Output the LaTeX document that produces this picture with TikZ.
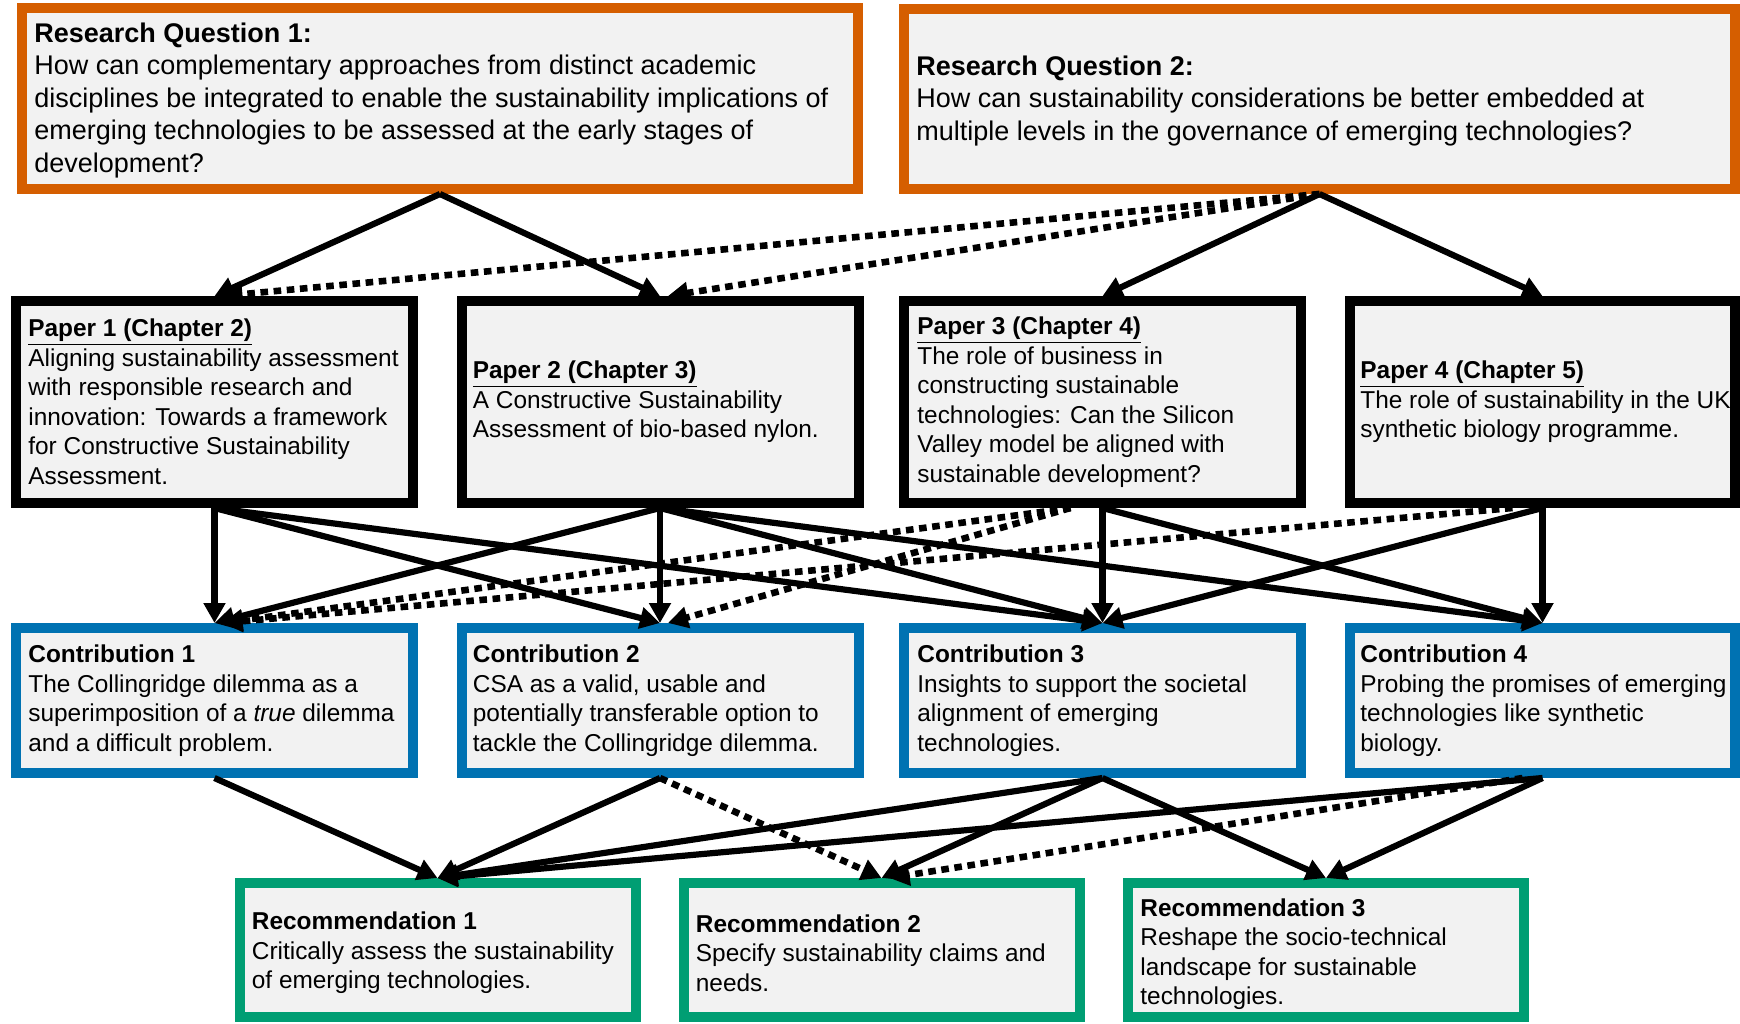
\documentclass[tikz,border=0pt]{standalone}
\usepackage{fontspec}
\setmainfont{Liberation Sans}
\usetikzlibrary{arrows.meta}

\definecolor{rqorange}{RGB}{213,94,0}
\definecolor{cblue}{RGB}{0,114,178}
\definecolor{rgreen}{RGB}{0,158,115}
\definecolor{boxfill}{RGB}{242,242,242}

\tikzset{
  frame/.style={draw, line width=5pt, fill=boxfill, inner sep=0pt},
  rqbox/.style={frame, draw=rqorange},
  paperbox/.style={frame, draw=black, minimum width=198.5pt, minimum height=101pt},
  contbox/.style={frame, draw=cblue, minimum width=198.5pt, minimum height=72.5pt},
  recbox/.style={frame, draw=rgreen, minimum width=198pt, minimum height=67pt},
  bigtxt/.style={anchor=west, align=left, inner sep=0pt, font=\fontsize{13.5}{16.25}\selectfont},
  txt/.style={anchor=west, align=left, inner sep=0pt, font=\fontsize{12.2}{14.75}\selectfont},
  link/.style={line width=3.1pt, -{Triangle[length=10pt,width=10.5pt]}},
  dotlink/.style={link, line width=3.3pt, dash pattern=on 3.8pt off 2.8pt},
}

\begin{document}
\begin{tikzpicture}[x=0.5pt, y=-0.5pt]
\useasboundingbox (0,0) rectangle (1740,1023);

% ---- research questions ----
\node[rqbox, minimum width=418pt, minimum height=90.5pt] (rq1) at (440,98.5) {};
\node[rqbox, minimum width=415.5pt, minimum height=90pt] (rq2) at (1319.5,99) {};
\node[bigtxt] (rq1t) at ([xshift=8.5pt,yshift=-1pt]rq1.west) {\textbf{Research Question 1:}\\
How can complementary approaches from distinct academic\\
disciplines be integrated to enable the sustainability implications of\\
emerging technologies to be assessed at the early stages of\\
development?};
\node[bigtxt] (rq2t) at ([xshift=8.5pt,yshift=-1pt]rq2.west) {\textbf{Research Question 2:}\\
How can sustainability considerations be better embedded at\\
multiple levels in the governance of emerging technologies?};

% ---- papers ----
\node[paperbox] (p1) at (214.5,402) {};
\node[paperbox] (p2) at (660,402) {};
\node[paperbox] (p3) at (1102.5,402) {};
\node[paperbox, minimum width=192.5pt] (p4) at (1542.5,402) {};
\node[txt] (p1t) at ([xshift=8.5pt]p1.west) {\textbf{\underline{Paper 1 (Chapter 2)}}\\
Aligning sustainability assessment\\
with responsible research and\\
innovation: Towards a framework\\
for Constructive Sustainability\\
Assessment.};
\node[txt] (p2t) at ([xshift=8pt]p2.west) {\textbf{\underline{Paper 2 (Chapter 3)}}\\
A Constructive Sustainability\\
Assessment of bio-based nylon.};
\node[txt] (p3t) at ([xshift=9pt]p3.west) {\textbf{\underline{Paper 3 (Chapter 4)}}\\
The role of business in\\
constructing sustainable\\
technologies: Can the Silicon\\
Valley model be aligned with\\
sustainable development?};
\node[txt] (p4t) at ([xshift=7.5pt]p4.west) {\textbf{\underline{Paper 4 (Chapter 5)}}\\
The role of sustainability in the UK\\
synthetic biology programme.};

% ---- contributions ----
\node[contbox] (c1) at (214.5,700.5) {};
\node[contbox] (c2) at (660,700.5) {};
\node[contbox] (c3) at (1102.5,700.5) {};
\node[contbox, minimum width=192.5pt] (c4) at (1542.5,700.5) {};
\node[txt] (c1t) at ([xshift=8.5pt]c1.west) {\textbf{Contribution 1}\\
The Collingridge dilemma as a\\
superimposition of a \textit{true} dilemma\\
and a difficult problem.};
\node[txt] (c2t) at ([xshift=8pt]c2.west) {\textbf{Contribution 2}\\
CSA as a valid, usable and\\
potentially transferable option to\\
tackle the Collingridge dilemma.};
\node[txt] (c3t) at ([xshift=9pt]c3.west) {\textbf{Contribution 3}\\
Insights to support the societal\\
alignment of emerging\\
technologies.};
\node[txt] (c4t) at ([xshift=7.5pt]c4.west) {\textbf{Contribution 4}\\
Probing the promises of emerging\\
technologies like synthetic\\
biology.};

% ---- recommendations ----
\node[recbox] (r1) at (437.5,950) {};
\node[recbox] (r2) at (881.5,950) {};
\node[recbox] (r3) at (1326,950) {};
\node[txt] (r1t) at ([xshift=8.5pt,yshift=-1.5pt]r1.west) {\textbf{Recommendation 1}\\
Critically assess the sustainability\\
of emerging technologies.};
\node[txt] (r2t) at ([xshift=8.5pt,yshift=-1.5pt]r2.west) {\textbf{Recommendation 2}\\
Specify sustainability claims and\\
needs.};
\node[txt] (r3t) at ([xshift=8.5pt,yshift=-2pt]r3.west) {\textbf{Recommendation 3}\\
Reshape the socio-technical\\
landscape for sustainable\\
technologies.};

% ---- questions to papers ----
\draw[link] (rq1.south) -- (p1.north);
\draw[link] (rq1.south) -- (p2.north);
\draw[dotlink] (rq2.south) -- ([xshift=4pt]p1.north);
\draw[dotlink] (rq2.south) -- ([xshift=4pt]p2.north);
\draw[link] (rq2.south) -- (p3.north);
\draw[link] (rq2.south) -- (p4.north);

% ---- papers to contributions ----
\draw[link] (p1.south) -- (c1.north);
\draw[link] (p1.south) -- (c2.north);
\draw[link] (p1.south) -- (c3.north);
\draw[link] (p2.south) -- (c1.north);
\draw[link] (p2.south) -- (c2.north);
\draw[link] (p2.south) -- (c3.north);
\draw[link] (p2.south) -- (c4.north);
\draw[link] (p3.south) -- (c3.north);
\draw[link] (p3.south) -- (c4.north);
\draw[dotlink] ([xshift=-16pt]p3.south) -- ([xshift=4pt]c1.north);
\draw[dotlink] ([xshift=-16pt]p3.south) -- ([xshift=4pt]c2.north);
\draw[link] (p4.south) -- (c4.north);
\draw[link] (p4.south) -- (c3.north);
\draw[dotlink] ([xshift=-15pt]p4.south) -- ([xshift=4pt]c1.north);

% ---- contributions to recommendations ----
\draw[link] (c1.south) -- (r1.north);
\draw[link] (c2.south) -- (r1.north);
\draw[link] (c3.south) -- (r1.north);
\draw[link] (c4.south) -- (r1.north);
\draw[dotlink] (c2.south) -- (r2.north);
\draw[link] (c3.south) -- (r2.north);
\draw[dotlink] ([xshift=-10pt]c4.south) -- ([xshift=4pt]r2.north);
\draw[link] (c3.south) -- (r3.north);
\draw[link] (c4.south) -- (r3.north);
\end{tikzpicture}
\end{document}
